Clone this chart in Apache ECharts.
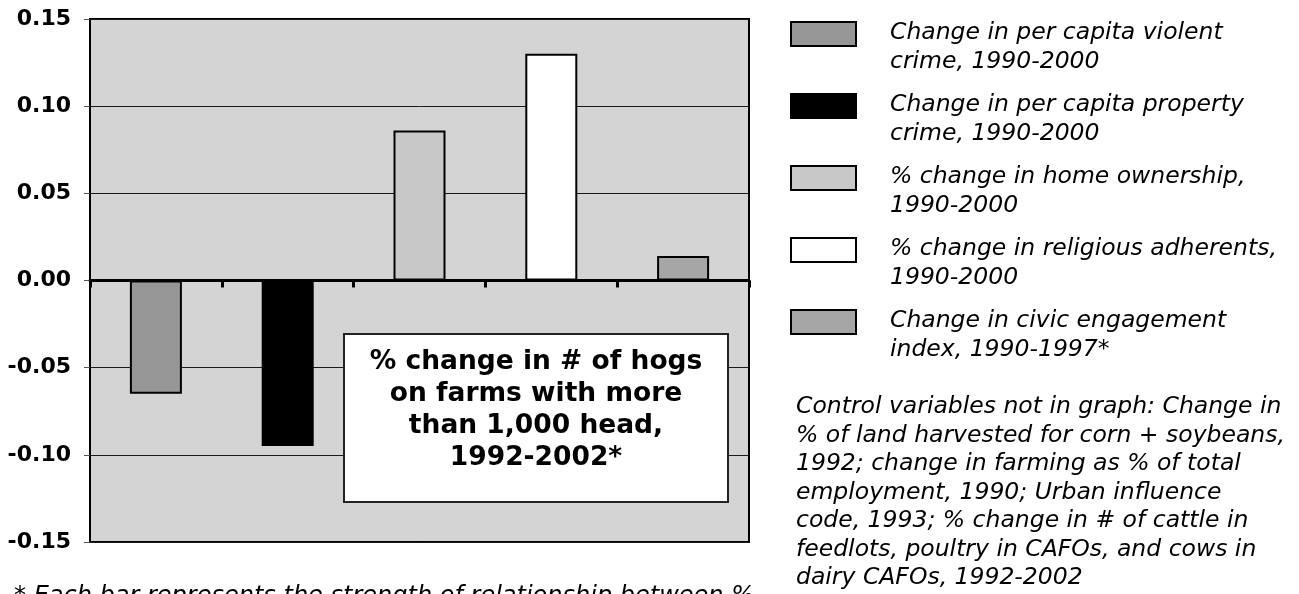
<!DOCTYPE html>
<html>
<head>
<meta charset="utf-8">
<script src="https://cdn.jsdelivr.net/npm/echarts@6/dist/echarts.min.js"></script>
<style>
  html, body { margin: 0; padding: 0; background: #fff; }
  #chart { width: 1299px; height: 594px; }
</style>
</head>
<body>
<div id="chart"></div>
<script>
// categories / series data
const categories = ['violent', 'property', 'home', 'religious', 'civic'];
const legendNames = [
  'Change in per capita violent\ncrime, 1990-2000',
  'Change in per capita property\ncrime, 1990-2000',
  '% change in home ownership,\n1990-2000',
  '% change in religious adherents,\n1990-2000',
  'Change in civic engagement\nindex, 1990-1997*'
];
const values = [-0.065, -0.095, 0.086, 0.13, 0.014];
const barColors = ['#969696', '#000000', '#c8c8c8', '#ffffff', '#a6a6a6'];

const boxText = '% change in # of hogs\non farms with more\nthan 1,000 head,\n1992-2002*';
const noteText = 'Control variables not in graph: Change in\n% of land harvested for corn + soybeans,\n1992; change in farming as % of total\nemployment, 1990; Urban influence\ncode, 1993; % change in # of cattle in\nfeedlots, poultry in CAFOs, and cows in\ndairy CAFOs, 1992-2002';
const footText = '* Each bar represents the strength of relationship between %';

const FONT = 'DejaVu Sans';
const ITALIC = 'italic 23.5px "' + FONT + '"';

// legend drawn by hand so swatch lines up with first text line
const legendGraphics = [];
legendNames.forEach((name, i) => {
  legendGraphics.push({
    type: 'rect',
    shape: { x: 791, y: 22 + 72 * i, width: 65, height: 24 },
    style: { fill: barColors[i], stroke: '#000', lineWidth: 2 }
  });
  legendGraphics.push({
    type: 'text',
    x: 890,
    y: 19 + 72 * i,
    style: { text: name, font: ITALIC, lineHeight: 28.5, fill: '#000' }
  });
});

const chart = echarts.init(document.getElementById('chart'));
chart.setOption({
  animation: false,
  grid: {
    left: 90, top: 19, right: 550, bottom: 52,
    show: true,
    backgroundColor: '#d4d4d4',
    borderColor: '#000',
    borderWidth: 2
  },
  xAxis: {
    type: 'category',
    data: categories,
    axisLine: { onZero: true, lineStyle: { color: '#000', width: 3 } },
    axisTick: { show: true, inside: false, length: 7, lineStyle: { color: '#000', width: 3 } },
    axisLabel: { show: false }
  },
  yAxis: {
    type: 'value',
    min: -0.15,
    max: 0.15,
    interval: 0.05,
    axisLine: { show: true, lineStyle: { color: '#000', width: 2 } },
    axisTick: { show: true, length: 6, lineStyle: { color: '#555', width: 1 } },
    axisLabel: {
      color: '#000',
      fontFamily: FONT,
      fontWeight: 'bold',
      fontSize: 22,
      margin: 19,
      formatter: v => (Math.abs(v) < 1e-9 ? 0 : v).toFixed(2)
    },
    splitLine: { show: true, lineStyle: { color: '#1a1a1a', width: 1 } }
  },
  series: [{
    type: 'bar',
    barWidth: 52,
    data: values.map((v, i) => ({
      value: v,
      itemStyle: { color: barColors[i] }
    })),
    itemStyle: { borderColor: '#000', borderWidth: 2 }
  }],
  graphic: [
    {
      type: 'rect',
      z: 100,
      shape: { x: 344, y: 334, width: 384, height: 168 },
      style: { fill: '#fff', stroke: '#222', lineWidth: 2 }
    },
    {
      type: 'text',
      z: 101,
      x: 536,
      y: 346,
      style: {
        text: boxText,
        font: 'bold 26.5px "' + FONT + '"',
        lineHeight: 32,
        align: 'center',
        fill: '#000'
      }
    },
    {
      type: 'text',
      x: 796,
      y: 393,
      style: { text: noteText, font: ITALIC, lineHeight: 28.5, fill: '#000' }
    },
    {
      type: 'text',
      x: 14,
      y: 583,
      style: { text: footText, font: 'italic 24px "' + FONT + '"', lineHeight: 28, fill: '#000' }
    }
  ].concat(legendGraphics)
});
</script>
</body>
</html>
